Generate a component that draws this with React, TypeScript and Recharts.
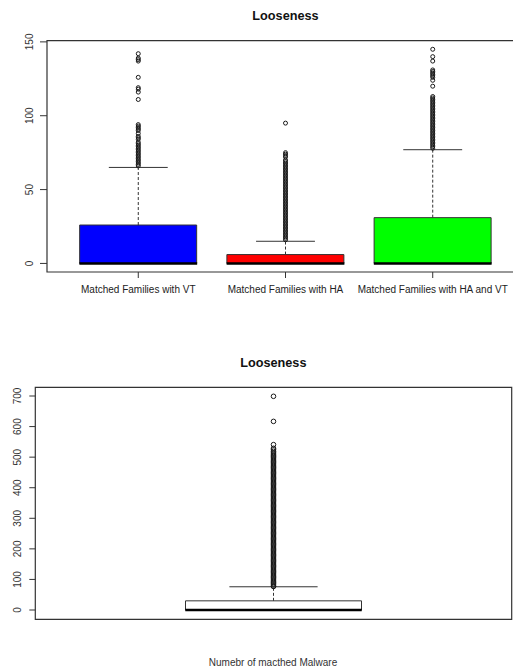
import { Bar, Cell, ComposedChart, ReferenceArea, ReferenceLine, Scatter, XAxis, YAxis } from 'recharts';

const FONT = '"Liberation Sans", Arial, sans-serif';
const INK = '#333333';

// top panel: three families
const families = ['Matched Families with VT', 'Matched Families with HA', 'Matched Families with HA and VT'];
const familyPos = [1, 2, 3];
const familyLower = [0, 0, 0];
const familyQ1 = [0, 0, 0];
const familyMedian = [0, 0, 0];
const familyQ3 = [26, 6, 31];
const familyUpper = [65, 15, 77];
const familyColors = ['#0000ff', '#ff0000', '#00ff00'];
const familyTicks = [0, 50, 100, 150];

const vtOutliers = [
  66, 67, 68, 69, 70, 71, 72, 73, 74, 75, 76, 77, 78, 79, 80, 81, 82, 84, 85, 86, 88, 90, 91, 92, 93, 94,
  111, 116, 118, 119, 126, 137, 138, 139, 142,
];
const haOutliers = [
  16, 17, 18, 19, 20, 21, 22, 23, 24, 25, 26, 27, 28, 29, 30, 31, 32, 33, 34, 35, 36, 37, 38, 39, 40, 41, 42, 43,
  44, 45, 46, 47, 48, 49, 50, 51, 52, 53, 54, 55, 56, 57, 58, 59, 60, 61, 62, 63, 64, 65, 66, 67, 68, 69, 70, 72,
  73, 74, 75, 95,
];
const haVtOutliers = [
  78, 79, 80, 81, 82, 83, 84, 85, 86, 87, 88, 89, 90, 91, 92, 93, 94, 95, 96, 97, 98, 99, 100, 101, 102, 103, 104,
  105, 106, 107, 108, 109, 110, 111, 112, 113, 120, 124, 126, 127, 128, 129, 130, 131, 137, 140, 145,
];

// bottom panel: all malware
const malwareLabel = 'Numebr of macthed Malware';
const malwarePos = [1];
const malwareLower = [0];
const malwareQ1 = [0];
const malwareMedian = [0];
const malwareQ3 = [30];
const malwareUpper = [76];
const malwareTicks = [0, 100, 200, 300, 400, 500, 600, 700];
const malwareOutliers = [
  77, 78, 82, 86, 90, 94, 98, 102, 106, 110, 114, 118, 122, 126, 130, 134, 138, 142, 146, 150, 154, 158, 162, 166,
  170, 174, 178, 182, 186, 190, 194, 198, 202, 206, 210, 214, 218, 222, 226, 230, 234, 238, 242, 246, 250, 254,
  258, 262, 266, 270, 274, 278, 282, 286, 290, 294, 298, 302, 306, 310, 314, 318, 322, 326, 330, 334, 338, 342,
  346, 350, 354, 358, 362, 366, 370, 374, 378, 382, 386, 390, 394, 398, 402, 406, 410, 414, 418, 422, 426, 430,
  434, 438, 442, 446, 450, 454, 458, 462, 466, 470, 474, 478, 482, 486, 490, 494, 498, 502, 506, 510, 514, 519,
  524, 529, 541, 617, 699,
];

type Box = { x: number; lower: number; q1: number; median: number; q3: number; upper: number; fill: string };

function makeBoxes(pos: number[], lo: number[], q1: number[], med: number[], q3: number[], up: number[], fills: string[]) {
  return pos.map((x, i) => ({ x, lower: lo[i], q1: q1[i], median: med[i], q3: q3[i], upper: up[i], fill: fills[i], box: [q1[i], q3[i]] }));
}

const familyBoxes = makeBoxes(familyPos, familyLower, familyQ1, familyMedian, familyQ3, familyUpper, familyColors);
const familyPoints = [vtOutliers, haOutliers, haVtOutliers].flatMap((list, i) => list.map((v) => ({ x: familyPos[i], y: v })));

const malwareBoxes = makeBoxes(malwarePos, malwareLower, malwareQ1, malwareMedian, malwareQ3, malwareUpper, ['#ffffff']);
const malwarePoints = malwareOutliers.map((v) => ({ x: malwarePos[0], y: v }));

const rotatedTick = (baseX: number) => (props: any) => (
  <text
    x={baseX}
    y={props.y}
    transform={`rotate(-90 ${baseX} ${props.y})`}
    textAnchor="middle"
    fontSize={10}
    fontFamily={FONT}
    fill={INK}
  >
    {props.payload.value}
  </text>
);

const openCircle = (r: number) => (props: any) => (
  <circle cx={props.cx} cy={props.cy} r={r} fill="none" stroke="#1a1a1a" strokeWidth={1} />
);

type PanelProps = {
  width: number;
  height: number;
  margin: { top: number; right: number; bottom: number; left: number };
  xDomain: [number, number];
  yDomain: [number, number];
  yTicks: number[];
  yAxisWidth: number;
  yTickLen: number;
  labelBase: number;
  boxes: any[];
  points: { x: number; y: number }[];
  halfBox: number;
  halfCap: number;
  barSize: number;
  dotR: number;
  xLabels?: string[];
};

function BoxPanel(p: PanelProps) {
  return (
    <ComposedChart width={p.width} height={p.height} data={p.boxes} margin={p.margin}>
      <XAxis
        dataKey="x"
        type="number"
        domain={p.xDomain}
        allowDataOverflow
        ticks={p.boxes.map((b) => b.x)}
        interval={0}
        hide={!p.xLabels}
        height={28}
        axisLine={false}
        tickSize={6}
        tickMargin={8}
        tickLine={{ stroke: INK }}
        tick={{ fontSize: 10, fill: '#222', fontFamily: FONT }}
        tickFormatter={(v: number) => (p.xLabels ? p.xLabels[p.boxes.findIndex((b) => b.x === v)] : '')}
      />
      <YAxis
        type="number"
        domain={p.yDomain}
        allowDataOverflow
        ticks={p.yTicks}
        interval={0}
        width={p.yAxisWidth}
        axisLine={false}
        tickSize={p.yTickLen}
        tickLine={{ stroke: INK }}
        tick={rotatedTick(p.labelBase)}
      />
      <ReferenceArea
        x1={p.xDomain[0]}
        x2={p.xDomain[1]}
        y1={p.yDomain[0]}
        y2={p.yDomain[1]}
        fill="none"
        fillOpacity={0}
        stroke={INK}
        strokeWidth={1.2}
        ifOverflow="visible"
      />
      {p.boxes.map((b: Box) => (
        <ReferenceLine
          key={`w${b.x}`}
          segment={[{ x: b.x, y: b.q3 }, { x: b.x, y: b.upper }]}
          stroke={INK}
          strokeDasharray="3 2"
          ifOverflow="visible"
        />
      ))}
      {p.boxes.map((b: Box) => (
        <ReferenceLine
          key={`c${b.x}`}
          segment={[{ x: b.x - p.halfCap, y: b.upper }, { x: b.x + p.halfCap, y: b.upper }]}
          stroke={INK}
          ifOverflow="visible"
        />
      ))}
      <Bar dataKey="box" barSize={p.barSize} stroke={INK} strokeWidth={1} isAnimationActive={false}>
        {p.boxes.map((b: Box) => (
          <Cell key={b.x} fill={b.fill} />
        ))}
      </Bar>
      {p.boxes.map((b: Box) => (
        <ReferenceLine
          key={`m${b.x}`}
          segment={[{ x: b.x - p.halfBox, y: b.median }, { x: b.x + p.halfBox, y: b.median }]}
          stroke="#000"
          strokeWidth={2.5}
          ifOverflow="visible"
        />
      ))}
      <Scatter data={p.points} dataKey="y" shape={openCircle(p.dotR)} isAnimationActive={false} />
    </ComposedChart>
  );
}

const titleStyle = {
  position: 'absolute' as const,
  transform: 'translateX(-50%)',
  fontFamily: FONT,
  fontWeight: 'bold' as const,
  fontSize: 12.7,
  lineHeight: '16px',
  color: '#111',
  whiteSpace: 'nowrap' as const,
};

export default function App() {
  return (
    <div style={{ position: 'absolute', left: 0, top: 0, width: 513, height: 671, overflow: 'hidden', background: '#fff' }}>
      <div style={{ ...titleStyle, left: 285.5, top: 8 }}>Looseness</div>
      <div style={{ position: 'absolute', left: 0, top: 0 }}>
        <BoxPanel
          width={530}
          height={300}
          margin={{ top: 40.7, right: 6, bottom: 0, left: 0 }}
          xDomain={[0.38, 3.62]}
          yDomain={[-5.8, 150.8]}
          yTicks={familyTicks}
          yAxisWidth={47}
          yTickLen={7}
          labelBase={33.3}
          boxes={familyBoxes}
          points={familyPoints}
          halfBox={0.4}
          halfCap={0.2}
          barSize={117}
          dotR={2}
          xLabels={families}
        />
      </div>
      <div style={{ ...titleStyle, left: 273.3, top: 355 }}>Looseness</div>
      <div style={{ position: 'absolute', left: 0, top: 340 }}>
        <BoxPanel
          width={513}
          height={300}
          margin={{ top: 47.3, right: 1.3, bottom: 20.7, left: 0.3 }}
          xDomain={[0.46, 1.54]}
          yDomain={[-30.4, 728.5]}
          yTicks={malwareTicks}
          yAxisWidth={35}
          yTickLen={6}
          labelBase={20.7}
          boxes={malwareBoxes}
          points={malwarePoints}
          halfBox={0.2}
          halfCap={0.1}
          barSize={176}
          dotR={2.3}
        />
      </div>
      <div
        style={{
          position: 'absolute',
          left: 273,
          top: 656.5,
          transform: 'translateX(-50%)',
          fontFamily: FONT,
          fontSize: 10,
          lineHeight: '12px',
          color: INK,
          whiteSpace: 'nowrap',
        }}
      >
        {malwareLabel}
      </div>
    </div>
  );
}
